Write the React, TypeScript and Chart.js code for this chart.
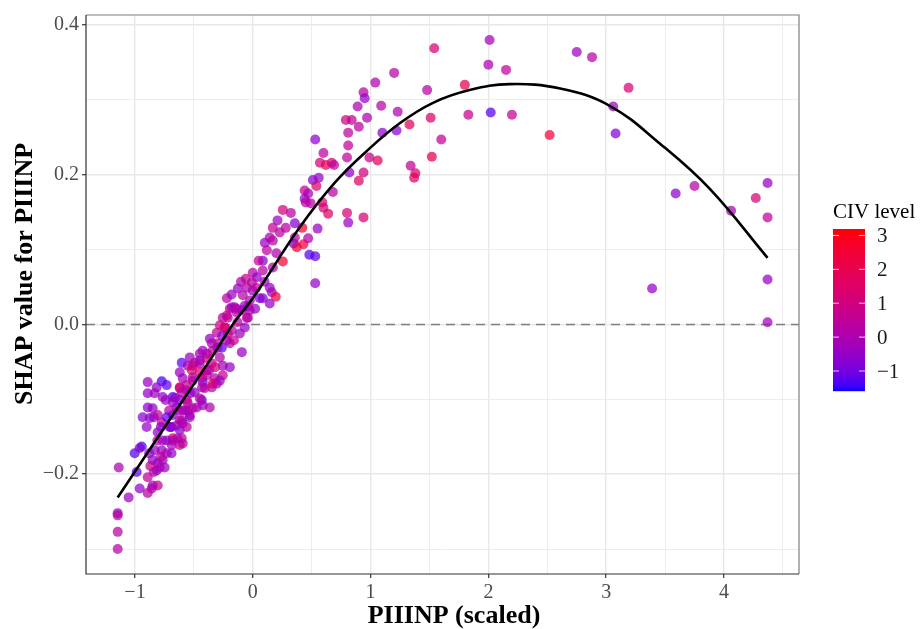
import React, { useEffect, useRef } from "react";
import { Chart, registerables } from "chart.js";

Chart.register(...registerables);

// ---- Axis ranges and ticks ----
const X_MIN = -1.416;
const X_MAX = 4.637;
const Y_MIN = -0.3333;
const Y_MAX = 0.4133;
const X_TICKS = [-1, -0.5, 0, 0.5, 1, 1.5, 2, 2.5, 3, 3.5, 4, 4.5];
const X_MAJOR = [-1, 0, 1, 2, 3, 4];
const Y_TICKS = [-0.3, -0.2, -0.1, 0, 0.1, 0.2, 0.3, 0.4];
const Y_MAJOR = [-0.2, 0, 0.2, 0.4];

// ---- Colour scale (CIV level) ----
const CIV_MIN = -1.59;
const CIV_MAX = 3.19;
const CIV_TICKS = [-1, 0, 1, 2, 3];
const LOW_COLOR = [0, 0, 255];
const HIGH_COLOR = [255, 0, 0];

// ---- Texts ----
const X_TITLE = "PIIINP (scaled)";
const Y_TITLE = "SHAP value for PIIINP";
const LEGEND_TITLE = "CIV level";

// ---- Fitted curve knots ----
const CURVE_X = [-1.147, -0.79, -0.365, -0.17, 0.0, 0.4, 0.7, 0.97, 1.25, 1.53, 1.84, 2.18, 2.61, 3.03, 3.46, 3.88, 4.37];
const CURVE_Y = [-0.231, -0.147, -0.048, 0.0, 0.035, 0.13, 0.19, 0.232, 0.269, 0.296, 0.313, 0.321, 0.315, 0.292, 0.241, 0.181, 0.089];

// ---- Samples: [PIIINP scaled, SHAP value, CIV level] ----
const SAMPLES: number[][] = [
  // right part
  [2.01, 0.380, -0.2], [2.00, 0.347, 0.0], [2.15, 0.340, 0.5], [1.80, 0.320, 2.0], [1.83, 0.280, 0.7],
  [2.02, 0.283, -1.3], [2.20, 0.280, 0.6], [2.52, 0.253, 2.5], [2.75, 0.364, -0.3], [2.88, 0.357, 0.4],
  [3.19, 0.316, 1.3], [3.06, 0.291, -0.3], [3.08, 0.255, -0.8], [3.59, 0.175, -0.6], [3.75, 0.185, 0.3],
  [3.39, 0.048, -0.5], [4.06, 0.152, -0.1], [4.27, 0.169, 1.2], [4.37, 0.189, -0.4], [4.37, 0.143, 0.5],
  [4.37, 0.060, -0.4], [4.37, 0.003, -0.2],
  // middle part
  [1.54, 0.369, 1.3], [1.20, 0.336, 0.3], [1.04, 0.323, 0.0], [1.48, 0.313, 0.2], [0.94, 0.310, 0.2],
  [0.95, 0.302, -0.5], [0.89, 0.291, 0.0], [1.09, 0.292, 0.3], [1.23, 0.284, 0.0], [0.97, 0.276, 0.0],
  [0.79, 0.273, 1.0], [0.84, 0.273, 0.7], [0.90, 0.264, 0.3], [0.81, 0.256, 0.5], [1.33, 0.267, 1.8],
  [1.51, 0.276, 1.5], [1.10, 0.256, -0.6], [1.22, 0.259, -0.7], [1.60, 0.247, 0.5], [0.53, 0.247, -0.6],
  [0.81, 0.239, 0.5], [0.60, 0.229, 0.3], [0.80, 0.223, 0.4], [0.99, 0.223, 0.8], [1.06, 0.219, 1.7],
  [0.57, 0.216, 1.2], [0.62, 0.213, 1.8], [0.67, 0.216, 1.3], [0.69, 0.213, 0.4], [1.52, 0.224, 2.0],
  [1.34, 0.212, 0.5], [1.38, 0.202, 1.5], [1.37, 0.196, 1.6], [0.82, 0.203, -0.6], [0.94, 0.203, 1.0],
  [0.90, 0.192, 1.7], [0.51, 0.193, -0.7], [0.56, 0.196, -0.5], [0.54, 0.185, 1.5], [0.68, 0.177, 0.3],
  [0.44, 0.179, 0.5], [0.47, 0.175, 0.0], [0.44, 0.168, -0.5], [0.59, 0.163, 1.3], [0.60, 0.156, 1.2],
  [0.64, 0.148, 1.6], [0.80, 0.149, 1.2], [0.81, 0.136, -0.4], [0.94, 0.143, 1.3], [0.55, 0.128, -0.4],
  [0.42, 0.129, 2.5], [0.53, 0.055, -0.5], [0.48, 0.093, -1.3], [0.53, 0.091, -1.2], [0.47, 0.115, 0.0],
  [0.43, 0.107, 2.2], [0.49, 0.162, 0.2], [0.45, 0.163, 0.3],
  // around x 0 .. 0.4
  [0.255, 0.153, 1.2], [0.323, 0.149, 0.3], [0.357, 0.135, -0.8], [0.229, 0.123, 0.3], [0.144, 0.116, 0.0],
  [0.170, 0.112, 0.3], [0.102, 0.109, -0.4], [0.119, 0.099, 0.4], [0.085, 0.085, -0.8], [0.255, 0.084, 2.5],
  [0.348, 0.108, -1.2], [0.374, 0.103, 2.5], [0.357, 0.116, 0.2], [0.170, 0.076, 0.0], [0.085, 0.072, 0.3],
  [0.000, 0.069, 0.3], [0.034, 0.063, -0.5], [-0.059, 0.061, 0.8], [-0.008, 0.056, 0.3], [-0.051, 0.049, 0.2],
  [-0.127, 0.048, -0.5], [-0.085, 0.039, 0.2], [0.000, 0.045, -0.3], [0.059, 0.035, -0.9], [0.144, 0.049, -0.4],
  [0.161, 0.043, -0.2], [0.195, 0.037, 2.3], [0.144, 0.028, -0.5], [0.085, 0.035, -0.6], [-0.025, 0.032, 0.0],
  [-0.153, 0.023, -0.5], [-0.195, 0.021, 0.4], [-0.136, 0.016, 0.0], [-0.093, 0.019, -0.3], [-0.042, 0.009, -0.2],
  [-0.068, -0.004, -0.5], [-0.212, 0.009, 0.5], [-0.238, -0.004, 0.3], [-0.22, 0.035, 0.2], [-0.18, 0.040, -0.3],
  [0.17, 0.129, 0.6], [0.21, 0.139, -0.3], [0.28, 0.129, 0.2], [0.2, 0.095, 0.0], [0.05, 0.085, 0.5],
  [0.10, 0.057, -0.3], [-0.10, 0.057, 0.0], [0.03, 0.049, 0.5], [0.02, 0.021, -0.4], [-0.04, 0.024, 0.6],
  // x -0.7 .. 0
  [-0.178, 0.023, -0.3], [-0.136, 0.021, 0.2], [-0.068, 0.025, -0.5], [-0.025, 0.019, -0.2], [-0.051, 0.009, 0.5],
  [-0.221, 0.012, 0.8], [-0.255, 0.009, 0.3], [-0.280, -0.001, 1.0], [-0.306, -0.011, 0.6], [-0.238, -0.004, 1.5],
  [-0.212, -0.012, 1.2], [-0.178, -0.008, 0.3], [-0.365, -0.019, -0.5], [-0.348, -0.025, 0.0], [-0.297, -0.025, 0.3],
  [-0.263, -0.031, -1.3], [-0.195, -0.025, 0.5], [-0.093, -0.037, -0.5], [-0.425, -0.035, -0.4], [-0.450, -0.039, 0.0],
  [-0.535, -0.044, -0.3], [-0.603, -0.051, -1.2], [-0.552, -0.055, -0.3], [-0.493, -0.051, 0.3], [-0.391, -0.045, 1.4],
  [-0.348, -0.052, 0.8], [-0.280, -0.044, 0.3], [-0.255, -0.055, -0.2], [-0.195, -0.057, -0.5], [-0.518, -0.061, 2.0],
  [-0.450, -0.064, 1.5], [-0.620, -0.064, -0.4], [-0.391, -0.068, 0.5], [-0.323, -0.072, 0.3], [-0.255, -0.068, 0.6],
  [-0.425, -0.077, -1.2], [-0.510, -0.075, 0.5], [-0.595, -0.072, -0.2], [-0.348, -0.084, 0.2], [-0.306, -0.079, -0.3],
  [-0.408, -0.085, 0.7], [-0.620, -0.085, 0.5], [-0.561, -0.088, 0.0], [-0.493, -0.091, -0.5], [-0.433, -0.101, -1.3],
  [-0.680, -0.097, -1.3], [-0.620, -0.101, -0.6], [-0.552, -0.105, 0.3], [-0.476, -0.111, -0.4], [-0.425, -0.108, -0.2],
  [-0.595, -0.115, -0.5], [-0.646, -0.111, -0.5], [-0.535, -0.121, 0.2], [-0.680, -0.121, -0.9], [-0.603, -0.128, -0.5],
  [-0.688, -0.137, -1.3], [-0.620, -0.141, -0.7], [-0.561, -0.137, 0.2], [-0.680, -0.155, -0.4], [-0.595, -0.159, 0.3],
  [-0.13, 0.003, 0.3], [-0.11, -0.012, -0.3], [-0.16, -0.021, 0.6], [-0.22, -0.021, 0.0], [-0.26, -0.015, -0.5],
  [-0.45, -0.048, -0.6], [-0.39, -0.039, 0.0], [-0.34, -0.035, 0.4], [-0.30, -0.031, -0.3], [-0.51, -0.071, 0.0],
  [-0.43, -0.071, 0.8], [-0.37, -0.061, -0.4], [-0.32, -0.057, 1.0], [-0.28, -0.075, -0.2], [-0.34, -0.079, 1.2],
  [-0.43, -0.084, 0.0], [-0.53, -0.092, -0.5], [-0.56, -0.101, 0.5], [-0.66, -0.098, -0.5], [-0.74, -0.101, -0.3],
  [-0.71, -0.115, 0.3], [-0.63, -0.115, 0.0], [-0.55, -0.115, -0.3], [-0.62, -0.128, 0.6], [-0.70, -0.137, 0.0],
  // x -1.15 .. -0.6
  [-0.892, -0.077, -0.4], [-0.773, -0.076, -1.4], [-0.731, -0.081, -1.2], [-0.816, -0.084, -0.5], [-0.892, -0.092, -0.5],
  [-0.833, -0.092, -0.3], [-0.765, -0.097, -0.4], [-0.680, -0.104, -0.4], [-0.620, -0.084, 1.2], [-0.561, -0.081, 0.5],
  [-0.603, -0.091, 0.2], [-0.510, -0.055, 0.6], [-0.450, -0.052, 0.2], [-0.391, -0.061, 0.5], [-0.450, -0.099, 0.4],
  [-0.365, -0.111, 0.0], [-0.892, -0.111, -0.6], [-0.850, -0.112, -0.5], [-0.935, -0.124, -0.6], [-0.875, -0.125, -0.7],
  [-0.901, -0.137, -0.5], [-0.807, -0.121, 0.5], [-0.773, -0.131, 1.0], [-0.731, -0.124, -1.2], [-0.705, -0.137, -0.8],
  [-0.646, -0.135, -0.3], [-0.595, -0.132, 0.0], [-0.535, -0.124, -0.4], [-0.578, -0.115, 0.0], [-0.510, -0.112, 0.3],
  [-0.807, -0.144, -0.5], [-0.765, -0.155, -0.5], [-0.680, -0.152, 1.2], [-0.688, -0.161, 0.0], [-0.620, -0.161, 0.5],
  [-0.603, -0.152, 0.4], [-0.943, -0.163, -1.4], [-1.003, -0.172, -1.3], [-0.960, -0.165, -0.8], [-0.833, -0.168, -0.5],
  [-0.773, -0.168, -0.4], [-0.731, -0.172, 0.0], [-0.850, -0.181, -0.6], [-0.807, -0.185, -0.5], [-0.765, -0.181, -0.4],
  [-0.748, -0.191, -0.3], [-0.816, -0.195, -0.7], [-0.790, -0.191, 0.0], [-0.986, -0.197, -1.2], [-1.138, -0.191, 0.0],
  [-0.892, -0.204, 0.5], [-0.850, -0.215, -0.3], [-0.807, -0.215, 0.6], [-0.858, -0.219, 0.0], [-0.960, -0.219, -0.5],
  [-0.892, -0.225, 0.3], [-1.054, -0.231, -0.3], [-1.147, -0.252, -0.5], [-1.147, -0.255, 0.3], [-1.147, -0.277, 0.3],
  [-1.147, -0.300, 0.2],
  [-0.78, -0.137, -0.6], [-0.84, -0.124, -0.3], [-0.81, -0.155, 0.2], [-0.73, -0.155, -0.4], [-0.64, -0.152, 0.0],
  [-0.69, -0.172, -0.5], [-0.78, -0.177, 0.4], [-0.88, -0.172, -0.4], [-0.84, -0.197, 0.0], [-0.87, -0.189, 0.6],
];

// ---- colour helpers (Lab interpolation like ggplot2) ----
function toLin(c: number) {
  c /= 255;
  return c <= 0.04045 ? c / 12.92 : Math.pow((c + 0.055) / 1.055, 2.4);
}
function rgbToLab(rgb: number[]) {
  const R = toLin(rgb[0]), G = toLin(rgb[1]), B = toLin(rgb[2]);
  const X = (R * 0.4124 + G * 0.3576 + B * 0.1805) / 0.95047;
  const Y = R * 0.2126 + G * 0.7152 + B * 0.0722;
  const Z = (R * 0.0193 + G * 0.1192 + B * 0.9505) / 1.08883;
  const f = (t: number) => (t > 0.008856 ? Math.cbrt(t) : 7.787 * t + 16 / 116);
  return [116 * f(Y) - 16, 500 * (f(X) - f(Y)), 200 * (f(Y) - f(Z))];
}
function labToRgb(lab: number[]) {
  const fy = (lab[0] + 16) / 116;
  const fx = fy + lab[1] / 500;
  const fz = fy - lab[2] / 200;
  const inv = (t: number) => (t * t * t > 0.008856 ? t * t * t : (t - 16 / 116) / 7.787);
  const X = inv(fx) * 0.95047, Y = inv(fy), Z = inv(fz) * 1.08883;
  const lin = [
    X * 3.2406 + Y * -1.5372 + Z * -0.4986,
    X * -0.9689 + Y * 1.8758 + Z * 0.0415,
    X * 0.0557 + Y * -0.204 + Z * 1.057,
  ];
  return lin.map((c) => {
    const v = c <= 0.0031308 ? 12.92 * c : 1.055 * Math.pow(c, 1 / 2.4) - 0.055;
    return Math.round(Math.max(0, Math.min(1, v)) * 255);
  });
}
const LOW_LAB = rgbToLab(LOW_COLOR);
const HIGH_LAB = rgbToLab(HIGH_COLOR);
function civColor(v: number, alpha = 1) {
  const t = Math.max(0, Math.min(1, (v - CIV_MIN) / (CIV_MAX - CIV_MIN)));
  const lab = LOW_LAB.map((l, i) => l + (HIGH_LAB[i] - l) * t);
  const [r, g, b] = labToRgb(lab);
  return `rgba(${r},${g},${b},${alpha})`;
}

const SERIF = "'Liberation Serif', 'Times New Roman', serif";
const fmt = (v: number, dec: number) => {
  const s = v.toFixed(dec);
  return s.replace("-", "\u2212");
};
const isIn = (arr: number[], v: number) => arr.some((a) => Math.abs(a - v) < 1e-6);

// ---- layout (pixels) ----
const BAR_LEFT = 833;
const BAR_RIGHT = 865;
const BAR_TOP = 229;
const BAR_BOTTOM = 391;

const decorPlugin = {
  id: "decor",
  beforeDraw(chart: any) {
    const { ctx } = chart;
    ctx.save();
    ctx.fillStyle = "#ffffff";
    ctx.fillRect(0, 0, chart.width, chart.height);
    ctx.restore();
  },
  beforeDatasetsDraw(chart: any) {
    const { ctx, chartArea } = chart;
    const y0 = chart.scales.y.getPixelForValue(0);
    ctx.save();
    ctx.strokeStyle = "#808080";
    ctx.lineWidth = 1.4;
    ctx.setLineDash([9, 6]);
    ctx.beginPath();
    ctx.moveTo(chartArea.left, y0);
    ctx.lineTo(chartArea.right, y0);
    ctx.stroke();
    ctx.restore();
  },
  afterDraw(chart: any) {
    const { ctx, chartArea } = chart;
    ctx.save();
    // panel border
    ctx.strokeStyle = "#7f7f7f";
    ctx.lineWidth = 1.2;
    ctx.beginPath();
    ctx.moveTo(chartArea.left, chartArea.top);
    ctx.lineTo(chartArea.right, chartArea.top);
    ctx.lineTo(chartArea.right, chartArea.bottom);
    ctx.stroke();
    ctx.strokeStyle = "#333333";
    ctx.beginPath();
    ctx.moveTo(chartArea.left, chartArea.top);
    ctx.lineTo(chartArea.left, chartArea.bottom);
    ctx.lineTo(chartArea.right, chartArea.bottom);
    ctx.stroke();

    // axis titles
    ctx.fillStyle = "#000000";
    ctx.font = `bold 26px ${SERIF}`;
    ctx.textAlign = "center";
    ctx.textBaseline = "alphabetic";
    ctx.fillText(X_TITLE, 454, 623);
    ctx.save();
    ctx.translate(32, 274);
    ctx.rotate(-Math.PI / 2);
    ctx.fillText(Y_TITLE, 0, 0);
    ctx.restore();

    // colour bar
    const span = BAR_BOTTOM - BAR_TOP;
    for (let i = 0; i < span; i++) {
      const v = CIV_MIN + ((span - i - 0.5) / span) * (CIV_MAX - CIV_MIN);
      ctx.fillStyle = civColor(v);
      ctx.fillRect(BAR_LEFT, BAR_TOP + i, BAR_RIGHT - BAR_LEFT, 1.2);
    }
    ctx.font = `21px ${SERIF}`;
    ctx.textAlign = "left";
    ctx.fillStyle = "#000000";
    ctx.fillText(LEGEND_TITLE, BAR_LEFT, 218);
    ctx.textBaseline = "middle";
    ctx.fillStyle = "#1a1a1a";
    CIV_TICKS.forEach((t) => {
      const y = BAR_BOTTOM - ((t - CIV_MIN) / (CIV_MAX - CIV_MIN)) * span;
      ctx.strokeStyle = "rgba(255,255,255,0.8)";
      ctx.lineWidth = 1;
      ctx.beginPath();
      ctx.moveTo(BAR_LEFT, y);
      ctx.lineTo(BAR_LEFT + 6, y);
      ctx.moveTo(BAR_RIGHT - 6, y);
      ctx.lineTo(BAR_RIGHT, y);
      ctx.stroke();
      ctx.fillText(fmt(t, 0), 877, y + 1);
    });
    ctx.restore();
  },
};

export default function App() {
  const ref = useRef<HTMLCanvasElement | null>(null);
  useEffect(() => {
    if (!ref.current) return;
    const pts = SAMPLES.map((s) => ({ x: s[0], y: s[1] }));
    const cols = SAMPLES.map((s) => civColor(s[2], 0.72));
    const curve = CURVE_X.map((x, i) => ({ x, y: CURVE_Y[i] }));
    const chart = new Chart(ref.current, {
      type: "scatter",
      data: {
        datasets: [
          {
            type: "scatter",
            data: pts,
            pointRadius: 5,
            pointBackgroundColor: cols,
            pointBorderWidth: 0,
            pointBorderColor: "rgba(0,0,0,0)",
            order: 2,
          } as any,
          {
            type: "line",
            data: curve,
            borderColor: "#000000",
            borderWidth: 2.6,
            pointRadius: 0,
            tension: 0.4,
            fill: false,
            order: 1,
          } as any,
        ],
      },
      options: {
        animation: false,
        responsive: false,
        devicePixelRatio: 1,
        layout: { padding: { top: 14, right: 122, left: 0, bottom: 0 } },
        plugins: { legend: { display: false }, tooltip: { enabled: false } },
        scales: {
          x: {
            type: "linear",
            min: X_MIN,
            max: X_MAX,
            afterBuildTicks: (s: any) => {
              s.ticks = X_TICKS.map((v) => ({ value: v }));
            },
            afterFit: (s: any) => {
              s.height = 55;
            },
            border: { display: false },
            grid: {
              color: "#e8e8e8",
              lineWidth: (c: any) => (c.tick && isIn(X_MAJOR, c.tick.value) ? 1.4 : 0.8),
              tickColor: (c: any) => (c.tick && isIn(X_MAJOR, c.tick.value) ? "#333333" : "rgba(0,0,0,0)"),
              tickWidth: 1.2,
              tickLength: 4,
            },
            ticks: {
              autoSkip: false,
              maxRotation: 0,
              padding: 3,
              color: "#4d4d4d",
              font: { family: SERIF, size: 20 },
              callback: (v: any) => (isIn(X_MAJOR, Number(v)) ? fmt(Number(v), 0) : ""),
            },
          },
          y: {
            type: "linear",
            min: Y_MIN,
            max: Y_MAX,
            afterBuildTicks: (s: any) => {
              s.ticks = Y_TICKS.map((v) => ({ value: v }));
            },
            afterFit: (s: any) => {
              s.width = 86;
            },
            border: { display: false },
            grid: {
              color: "#e8e8e8",
              lineWidth: (c: any) => (c.tick && isIn(Y_MAJOR, c.tick.value) ? 1.4 : 0.8),
              tickColor: (c: any) => (c.tick && isIn(Y_MAJOR, c.tick.value) ? "#333333" : "rgba(0,0,0,0)"),
              tickWidth: 1.2,
              tickLength: 4,
            },
            ticks: {
              autoSkip: false,
              padding: 3,
              color: "#4d4d4d",
              font: { family: SERIF, size: 20 },
              callback: (v: any) => (isIn(Y_MAJOR, Number(v)) ? fmt(Number(v), 1) : ""),
            },
          },
        },
      },
      plugins: [decorPlugin],
    });
    return () => chart.destroy();
  }, []);
  return (
    <div style={{ position: "fixed", left: 0, top: 0, width: 921, height: 629, background: "#fff" }}>
      <canvas ref={ref} width={921} height={629} style={{ width: 921, height: 629 }} />
    </div>
  );
}
